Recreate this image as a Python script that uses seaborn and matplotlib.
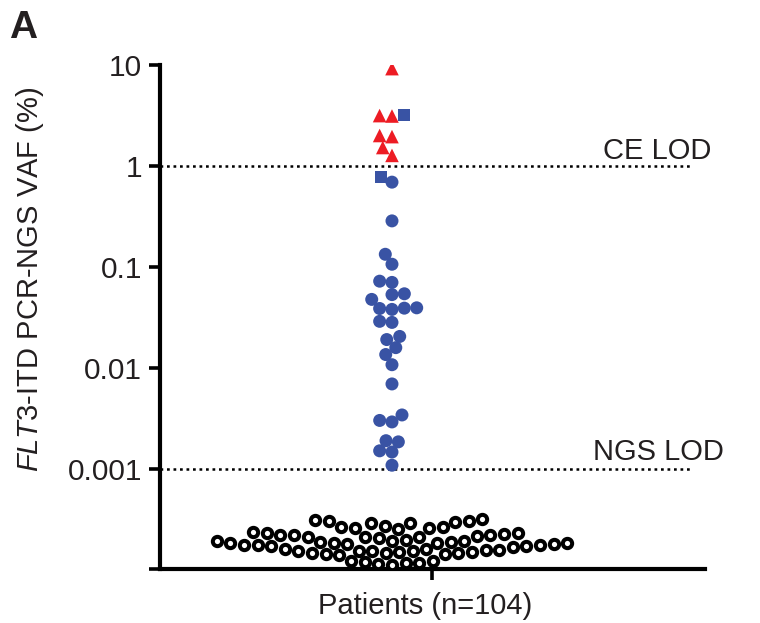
import numpy as np
import pandas as pd
import matplotlib
matplotlib.use("Agg")
import matplotlib.pyplot as plt
from matplotlib.markers import MarkerStyle
from matplotlib.ticker import NullLocator
from matplotlib.transforms import Affine2D
import seaborn as sns

# ---------------- data (VAF, %) ----------------
ce_pos_triangle = [9.2, 3.15, 3.12, 2.0, 1.95, 1.52, 1.27]          # red triangles
ce_pos_square = [3.2, 0.77]                                          # blue squares
ngs_pos_circle = [0.69, 0.285, 0.133, 0.106, 0.072, 0.070, 0.054, 0.053,
                  0.0475, 0.0392, 0.0389, 0.0386, 0.0378, 0.0288, 0.0281,
                  0.0204, 0.0190, 0.0158, 0.0135, 0.0107, 0.0069, 0.0034,
                  0.0030, 0.0029, 0.00189, 0.00184, 0.00150, 0.00146, 0.00108]
ngs_negative = [3.20e-4, 3.12e-4, 3.05e-4, 3.01e-4, 2.96e-4, 2.92e-4, 2.86e-4,
                2.70e-4, 2.66e-4, 2.62e-4, 2.58e-4, 2.55e-4, 2.51e-4,
                2.35e-4, 2.32e-4, 2.28e-4, 2.25e-4, 2.22e-4, 2.20e-4, 2.18e-4, 2.15e-4,
                2.12e-4, 2.10e-4, 2.08e-4, 2.05e-4,
                1.95e-4, 1.93e-4, 1.92e-4, 1.90e-4, 1.88e-4, 1.86e-4, 1.85e-4, 1.84e-4,
                1.83e-4, 1.82e-4, 1.80e-4, 1.78e-4, 1.76e-4, 1.75e-4, 1.73e-4, 1.72e-4,
                1.70e-4, 1.68e-4,
                1.60e-4, 1.58e-4, 1.56e-4, 1.55e-4, 1.54e-4, 1.53e-4, 1.52e-4, 1.51e-4,
                1.50e-4, 1.48e-4, 1.47e-4, 1.46e-4, 1.45e-4, 1.43e-4, 1.42e-4, 1.40e-4,
                1.22e-4, 1.20e-4, 1.18e-4, 1.16e-4, 1.15e-4, 1.13e-4, 1.12e-4]
ce_lod = 1.0
ngs_lod = 0.001
y_ticks = [1e-4, 1e-3, 1e-2, 1e-1, 1, 10]
y_ticklabels = ["", "0.001", "0.01", "0.1", "1", "10"]
x_label = "Patients (n=104)"
y_label = r"$\mathit{FLT3}$-ITD PCR-NGS VAF (%)"

RED = "#ed1c24"
BLUE = "#3953a4"
INK = "#231f20"

pos = pd.DataFrame({
    "vaf": ce_pos_triangle + ce_pos_square + ngs_pos_circle,
    "group": (["tri"] * len(ce_pos_triangle) + ["sq"] * len(ce_pos_square)
              + ["circ"] * len(ngs_pos_circle)),
})
neg = pd.DataFrame({"vaf": ngs_negative})
marker_of = {"tri": "^", "sq": "s", "circ": "o"}
marker_scale = {"tri": 1.15, "sq": 1.03, "circ": 1.1}

# ---------------- style ----------------
sns.set_style("ticks")
plt.rcParams["font.family"] = ["Liberation Sans", "DejaVu Sans"]
plt.rcParams["mathtext.fontset"] = "custom"
plt.rcParams["mathtext.rm"] = "Liberation Sans"
plt.rcParams["mathtext.it"] = "Liberation Sans:italic"
FS = 21

fig = plt.figure(figsize=(7.6, 6.23), dpi=100)
ax = fig.add_axes([0.2105, 0.0859, 0.7171, 0.8098])

sns.swarmplot(data=neg, y="vaf", ax=ax, color="white", edgecolor="black",
              linewidth=2.9, size=6.5, log_scale=True, zorder=3)
neg_coll = ax.collections[-1]
ms_o = MarkerStyle("o")
neg_coll.set_paths([ms_o.get_path().transformed(
    ms_o.get_transform() + Affine2D().scale(1.03))])

sns.swarmplot(data=pos, y="vaf", hue="group", ax=ax, size=8.5, linewidth=0,
              palette={"tri": RED, "sq": BLUE, "circ": BLUE}, legend=False,
              log_scale=True, zorder=4)

# per-point marker shapes for the positive swarm
coll = ax.collections[-1]
log_vals = np.log10(pos["vaf"].to_numpy())
paths = []
for yv in coll.get_offsets()[:, 1]:
    yv = float(yv)
    yl = np.log10(yv) if yv > 0 else yv
    i = int(np.argmin(np.minimum(np.abs(log_vals - yl), np.abs(log_vals - yv))))
    grp = pos["group"].iloc[i]
    ms = MarkerStyle(marker_of[grp])
    paths.append(ms.get_path().transformed(
        ms.get_transform() + Affine2D().scale(marker_scale[grp])))
coll.set_paths(paths)

# LOD lines
for lod in (ce_lod, ngs_lod):
    ax.axhline(lod, xmin=0, xmax=0.976, color="black", lw=1.8,
               ls=(0, (1.1, 1.5)), zorder=2)
ax.annotate("CE LOD", xy=(0.813, ce_lod), xycoords=("axes fraction", "data"),
            xytext=(0, 5), textcoords="offset points", fontsize=FS,
            color=INK, va="baseline", ha="left")
ax.annotate("NGS LOD", xy=(0.794, ngs_lod), xycoords=("axes fraction", "data"),
            xytext=(0, 6.5), textcoords="offset points", fontsize=FS,
            color=INK, va="baseline", ha="left")

# axes
ax.set_xlim(-0.4257, 0.5743)
ax.set_ylim(1e-4, 10)
ax.set_yticks(y_ticks)
ax.set_yticklabels(y_ticklabels)
ax.yaxis.set_minor_locator(NullLocator())
ax.set_xticks([np.mean(ax.get_xlim())])
ax.set_xticklabels([""])
sns.despine(ax=ax)
for s in ("left", "bottom"):
    ax.spines[s].set_linewidth(3.0)
    ax.spines[s].set_color("black")
ax.tick_params(axis="both", length=8, width=2.6, color="black",
               labelsize=21.5, labelcolor=INK, pad=5)
ax.set_xlabel(x_label, fontsize=FS, color=INK)
ax.xaxis.set_label_coords(0.486, -0.045)
ax.xaxis.label.set_va("top")
ax.set_ylabel(y_label, fontsize=FS, color=INK)
ax.yaxis.set_label_coords(-0.209, 0.576)

fig.text(0.012, 0.939, "A", fontsize=28, fontweight="bold", color=INK,
         ha="left", va="baseline")

fig.savefig("out.png", dpi=100)
